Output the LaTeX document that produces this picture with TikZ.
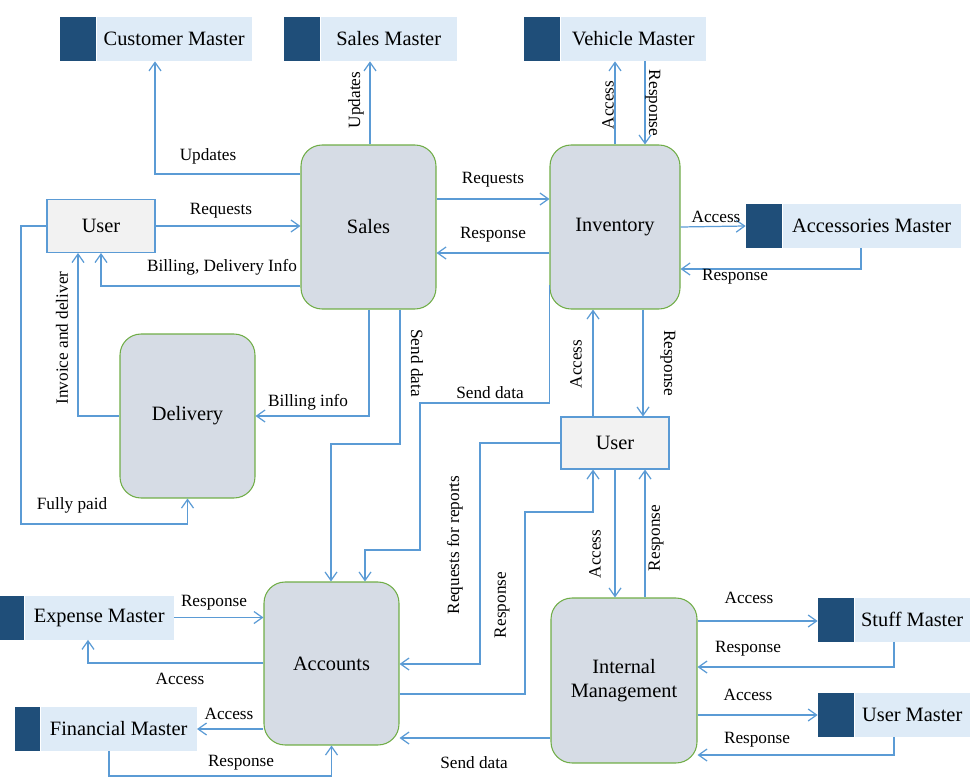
\documentclass[tikz,border=0pt]{standalone}
\usepackage{fontspec}
\setmainfont{Liberation Serif}
\newfontfamily\diagfont{Liberation Serif}
\usetikzlibrary{arrows.meta,positioning}
\definecolor{storedark}{HTML}{1F4E79}
\definecolor{storelight}{HTML}{DEEBF7}
\definecolor{procfill}{HTML}{D6DCE5}
\definecolor{procline}{HTML}{70AD47}
\definecolor{userfill}{HTML}{F2F2F2}
\definecolor{flowline}{HTML}{5B9BD5}

\begin{document}
\begin{tikzpicture}[x=0.02cm,y=-0.02cm,
  process/.style={draw=procline,fill=procfill,line width=0.6pt,rounded corners=0.42cm,
    minimum width=2.7cm,minimum height=3.28cm,align=center,font=\diagfont\fontsize{11.6}{14}\selectfont},
  userbox/.style={draw=flowline,fill=userfill,line width=0.6pt,minimum width=2.16cm,
    minimum height=1.06cm,font=\diagfont\fontsize{11.6}{14}\selectfont},
  storemark/.style={fill=storedark,minimum width=0.72cm,minimum height=0.88cm,inner sep=0pt},
  storebox/.style={fill=storelight,minimum height=0.88cm,inner sep=0pt,font=\diagfont\fontsize{11.6}{14}\selectfont},
  flow/.style={draw=flowline,line width=0.7pt,-{Straight Barb[length=0.17cm,width=0.24cm]}},
  lbl/.style={font=\diagfont\fontsize{9.8}{12}\selectfont,inner sep=1pt}]
\useasboundingbox (0,0) rectangle (972,780);

% data stores
\node[storemark] (custmark) at (78,39) {};
\node[storebox,minimum width=3.1cm,right=0pt of custmark] (custmaster) {Customer Master};
\node[storemark] (salesmark) at (302,39) {};
\node[storebox,minimum width=2.72cm,right=0pt of salesmark] (salesmaster) {Sales Master};
\node[storemark] (vehmark) at (542,39) {};
\node[storebox,minimum width=2.9cm,right=0pt of vehmark] (vehmaster) {Vehicle Master};
\node[storemark] (accmark) at (764,226) {};
\node[storebox,minimum width=3.56cm,right=0pt of accmark] (accmaster) {Accessories Master};
\node[storemark,minimum width=0.48cm] (expmark) at (12,617.5) {};
\node[storebox,minimum width=2.98cm,right=0pt of expmark] (expmaster) {Expense Master};
\node[storemark,minimum width=0.5cm] (finmark) at (27.5,729) {};
\node[storebox,minimum width=3.12cm,right=0pt of finmark] (finmaster) {Financial Master};
\node[storemark] (stuffmark) at (836,619.5) {};
\node[storebox,minimum width=2.3cm,right=0pt of stuffmark] (stuffmaster) {Stuff Master};
\node[storemark] (usermark) at (836,715) {};
\node[storebox,minimum width=2.3cm,right=0pt of usermark] (usermaster) {User Master};

% processes
\node[process] (sales) at (368.5,227) {Sales};
\node[process,minimum width=2.6cm] (inventory) at (615,227) {Inventory};
\node[process] (delivery) at (187.5,416) {Delivery};
\node[process,minimum height=3.26cm] (accounts) at (331.5,663.5) {Accounts};
\node[process,minimum width=2.92cm,minimum height=3.3cm] (internal) at (624,680.5) {Internal\\Management};

\node[userbox] (user) at (101,226) {User};
\node[userbox,minimum height=1.04cm] (userb) at (615,443) {User};

% sales
\draw[flow] (sales.west |- 0,174) -| (custmaster.south -| 155,0);
\node[lbl] (l1) at (208,156) {Updates};
\draw[flow] (sales.north -| 370,0) -- (salesmaster.south -| 370,0);
\node[lbl,rotate=90] (l2) at (356,100) {Updates};
\draw[flow] (user.east) -- (sales.west |- user.east);
\node[lbl] (l3) at (221,211) {Requests};
\draw[flow] (sales.west |- 0,286) -| (user.south -| 101,0);
\node[lbl] (l4) at (222,267) {Billing, Delivery Info};
\draw[flow] (sales.east |- 0,199) -- (inventory.west |- 0,199);
\node[lbl] (l5) at (493,180) {Requests};
\draw[flow] (inventory.west |- 0,253) -- (sales.east |- 0,253);
\node[lbl] (l6) at (493,235) {Response};

% inventory
\draw[flow] (inventory.north -| 615,0) -- (vehmaster.south -| 615,0);
\node[lbl,rotate=90] (l7) at (608,105) {Access};
\draw[flow] (vehmaster.south -| 645,0) -- (inventory.north -| 645,0);
\node[lbl,rotate=-90] (l8) at (653,103) {Response};
\draw[flow] (inventory.east) -- (accmark.west);
\node[lbl] (l9) at (716,217) {Access};
\draw[flow] (accmaster.south -| 861,0) |- (inventory.east |- 0,269);
\node[lbl] (l10) at (735,277) {Response};

% delivery
\draw[flow] (delivery.west) -| (user.south -| 78,0);
\node[lbl,rotate=90] (l11) at (62,338) {Invoice and deliver};
\draw[flow] (user.west) -| (21,524) -| (delivery.south);
\node[lbl] (l12) at (72,505) {Fully paid};
\draw[flow] (sales.south -| 369,0) |- (delivery.east);
\node[lbl] (l13) at (308,402) {Billing info};

% to accounts
\draw[flow] (sales.south -| 400,0) |- (331,444) -- (accounts.north -| 331,0);
\node[lbl,rotate=-90] (l14) at (417,363) {Send data};
\draw[flow] (inventory.west |- 0,285) |- (420,403) |- (365,550) -- (accounts.north -| 365,0);
\node[lbl] (l15) at (490,393) {Send data};

% second user
\draw[flow] (userb.north -| 593,0) -- (inventory.south -| 593,0);
\node[lbl,rotate=90] (l16) at (576,364) {Access};
\draw[flow] (inventory.south -| 643,0) -- (userb.north -| 643,0);
\node[lbl,rotate=-90] (l17) at (668,363) {Response};
\draw[flow] (userb.west) -| (480,664) -- (accounts.east |- 0,664);
\node[lbl,rotate=90] (l18) at (455,545) {Requests for reports};
\draw[flow] (accounts.east |- 0,694) -| (525,512) -| (userb.south -| 593,0);
\node[lbl,rotate=90] (l19) at (502,605) {Response};
\draw[flow] (userb.south -| 615,0) -- (internal.north -| 615,0);
\node[lbl,rotate=90] (l20) at (595,554) {Access};
\draw[flow] (internal.north -| 645,0) -- (userb.south -| 645,0);
\node[lbl,rotate=90] (l21) at (656,538) {Response};

% internal management
\draw[flow] (internal.east |- 0,621) -- (stuffmark.west |- 0,621);
\node[lbl] (l22) at (749,598) {Access};
\draw[flow] (stuffmaster.south -| 894,0) |- (internal.east |- 0,667);
\node[lbl] (l23) at (748,649) {Response};
\draw[flow] (internal.east |- 0,715) -- (usermark.west |- 0,715);
\node[lbl] (l24) at (748,695) {Access};
\draw[flow] (usermaster.south -| 894,0) |- (internal.east |- 0,755);
\node[lbl] (l25) at (757,740) {Response};
\draw[flow] (internal.west |- 0,738) -- (accounts.east |- 0,738);
\node[lbl] (l26) at (474,763) {Send data};

% accounts
\draw[flow] (expmaster.east) -- (accounts.west |- expmaster.east);
\node[lbl] (l27) at (214,603) {Response};
\draw[flow] (accounts.west |- 0,663) -| (expmaster.south -| 88,0);
\node[lbl] (l28) at (180,679) {Access};
\draw[flow] (accounts.west |- 0,729) -- (finmaster.east);
\node[lbl] (l29) at (229,714) {Access};
\draw[flow] (finmaster.south -| 109,0) |- (accounts.south |- 0,776) -- (accounts.south);
\node[lbl] (l30) at (241,763) {Response};

\end{tikzpicture}
\end{document}
